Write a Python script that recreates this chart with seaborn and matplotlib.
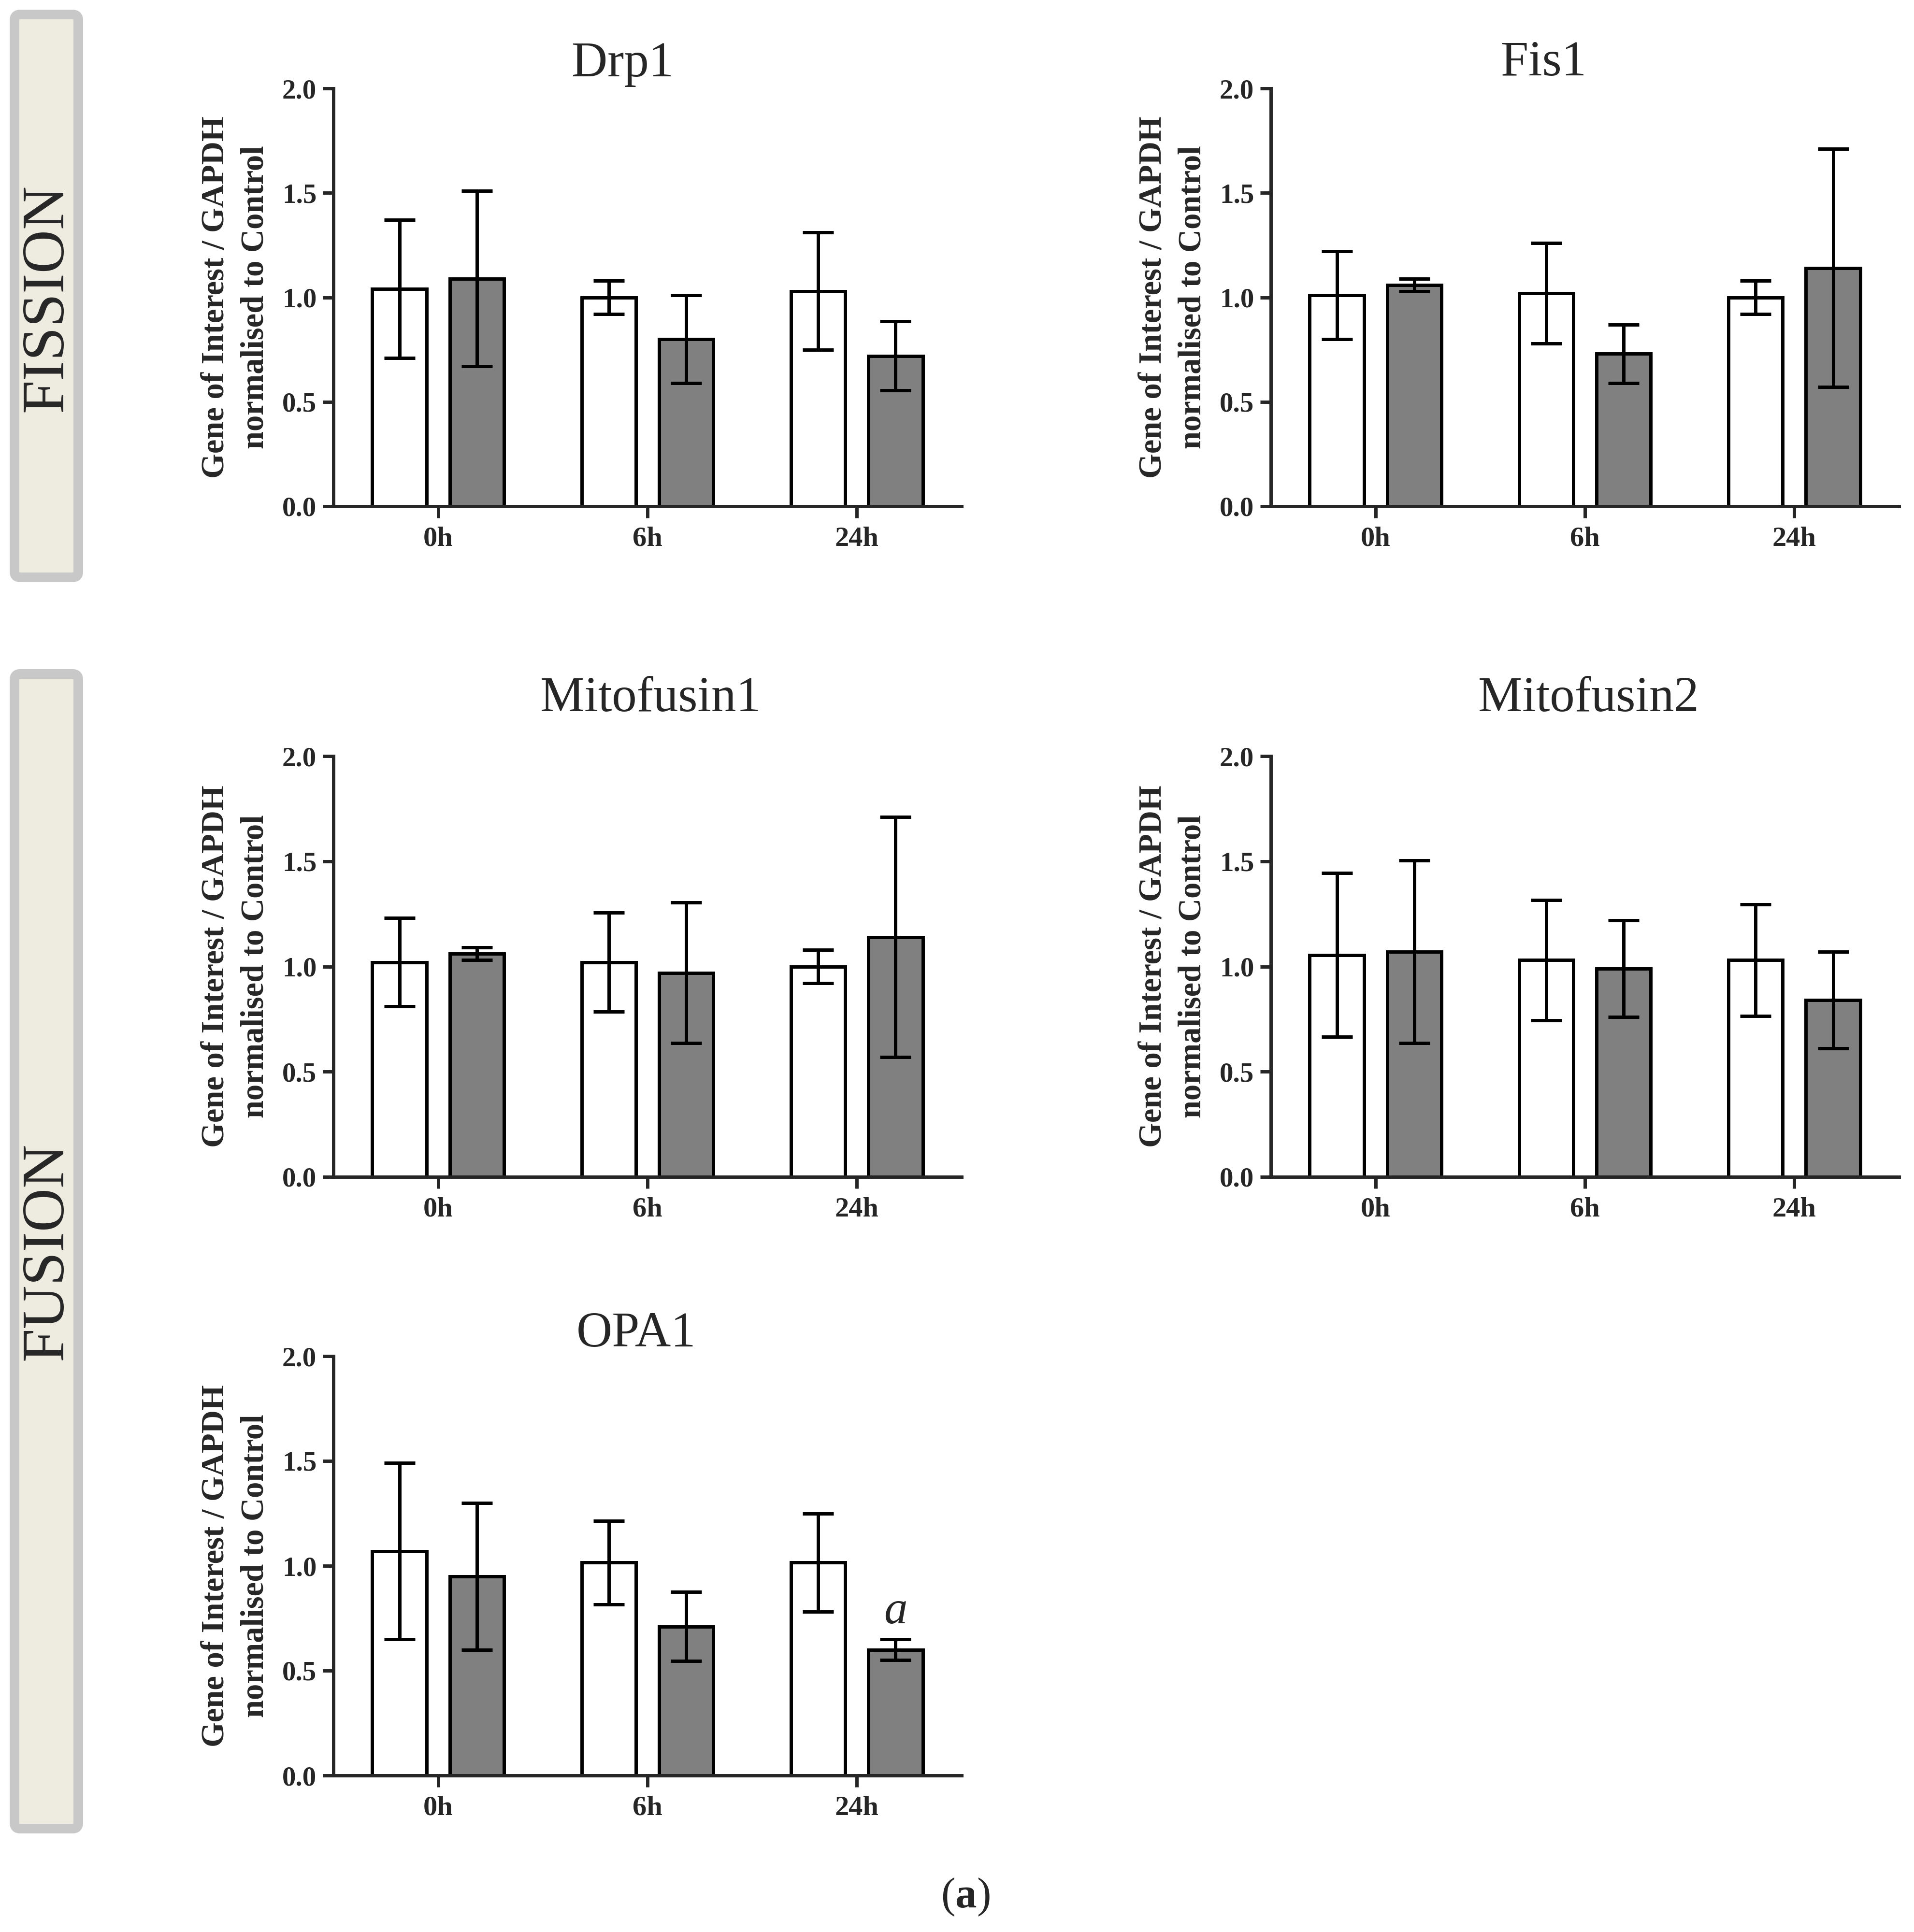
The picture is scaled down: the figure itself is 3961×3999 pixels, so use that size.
import numpy as np
import pandas as pd
import matplotlib
matplotlib.use("Agg")
import matplotlib.pyplot as plt
import seaborn as sns
from matplotlib.container import BarContainer
from matplotlib.patches import FancyBboxPatch
from matplotlib.ticker import FormatStrFormatter

# ---- data (mean, SD) ----
timepoints = ["0h", "6h", "24h"]
groups = ["Control", "Treated"]

drp1_ctrl_mean = [1.04, 1.00, 1.03]
drp1_ctrl_sd = [0.33, 0.08, 0.28]
drp1_trt_mean = [1.09, 0.80, 0.72]
drp1_trt_sd = [0.42, 0.21, 0.165]

fis1_ctrl_mean = [1.01, 1.02, 1.00]
fis1_ctrl_sd = [0.21, 0.24, 0.08]
fis1_trt_mean = [1.06, 0.73, 1.14]
fis1_trt_sd = [0.03, 0.14, 0.57]

mfn1_ctrl_mean = [1.02, 1.02, 1.00]
mfn1_ctrl_sd = [0.21, 0.235, 0.08]
mfn1_trt_mean = [1.06, 0.97, 1.14]
mfn1_trt_sd = [0.03, 0.335, 0.57]

mfn2_ctrl_mean = [1.055, 1.03, 1.03]
mfn2_ctrl_sd = [0.39, 0.285, 0.265]
mfn2_trt_mean = [1.07, 0.99, 0.84]
mfn2_trt_sd = [0.435, 0.23, 0.23]

opa1_ctrl_mean = [1.07, 1.015, 1.015]
opa1_ctrl_sd = [0.42, 0.20, 0.235]
opa1_trt_mean = [0.95, 0.71, 0.60]
opa1_trt_sd = [0.35, 0.165, 0.05]

genes = {
    "Drp1": (drp1_ctrl_mean, drp1_ctrl_sd, drp1_trt_mean, drp1_trt_sd),
    "Fis1": (fis1_ctrl_mean, fis1_ctrl_sd, fis1_trt_mean, fis1_trt_sd),
    "Mitofusin1": (mfn1_ctrl_mean, mfn1_ctrl_sd, mfn1_trt_mean, mfn1_trt_sd),
    "Mitofusin2": (mfn2_ctrl_mean, mfn2_ctrl_sd, mfn2_trt_mean, mfn2_trt_sd),
    "OPA1": (opa1_ctrl_mean, opa1_ctrl_sd, opa1_trt_mean, opa1_trt_sd),
}
# significance mark: (gene, timepoint, group, label)
sig_marks = [("OPA1", "24h", "Treated", "a")]

# ---- layout (figure fractions) ----
W, H = 3961, 3999
AX_W = 1300 / W
panels = {
    # left, bottom, height, title x (axes frac), title baseline (axes frac)
    "Drp1": (690 / W, 1 - 1048 / H, 865 / H, 0.46, 1.029),
    "Fis1": (2630 / W, 1 - 1048 / H, 865 / H, 0.434, 1.031),
    "Mitofusin1": (690 / W, 1 - 2436 / H, 871 / H, 0.505, 1.107),
    "Mitofusin2": (2630 / W, 1 - 2436 / H, 871 / H, 0.506, 1.107),
    "OPA1": (690 / W, 1 - 3675 / H, 868 / H, 0.482, 1.023),
}

sns.set_theme(style="ticks")
plt.rcParams["font.family"] = ["Liberation Serif", "DejaVu Serif"]
plt.rcParams["mathtext.fontset"] = "custom"
plt.rcParams["mathtext.rm"] = "Liberation Serif"
plt.rcParams["mathtext.bf"] = "Liberation Serif:bold"
plt.rcParams["mathtext.it"] = "Liberation Serif:italic"

LW = 5.0
fig = plt.figure(figsize=(W / 100, H / 100), dpi=100)

palette = {"Control": "white", "Treated": "#808080"}

for name, (left, bottom, height, tx, ty) in panels.items():
    c_mean, c_sd, t_mean, t_sd = genes[name]
    df = pd.DataFrame({
        "time": timepoints * 2,
        "group": [groups[0]] * 3 + [groups[1]] * 3,
        "value": c_mean + t_mean,
        "sd": c_sd + t_sd,
    })
    ax = fig.add_axes([left, bottom, AX_W, height])
    sns.barplot(data=df, x="time", y="value", hue="group", order=timepoints,
                hue_order=groups, palette=palette, edgecolor="black",
                linewidth=LW, width=0.74, gap=0.3, errorbar=None,
                legend=False, ax=ax)

    # error bars at the centres of the drawn bars
    bar_conts = [c for c in ax.containers if isinstance(c, BarContainer)]
    for gi, cont in enumerate(bar_conts):
        sub = df[df["group"] == groups[gi]].set_index("time")
        for bar in cont:
            xc = bar.get_x() + bar.get_width() / 2
            t = timepoints[int(round(xc))]
            ax.errorbar(xc, sub.loc[t, "value"], yerr=sub.loc[t, "sd"],
                        fmt="none", ecolor="black", elinewidth=LW,
                        capsize=23, capthick=LW, zorder=5)
            for g, tp, grp, lab in sig_marks:
                if g == name and tp == t and grp == groups[gi]:
                    ax.text(xc, sub.loc[t, "value"] + sub.loc[t, "sd"] + 0.075,
                            lab, ha="center", va="baseline", fontsize=70,
                            style="italic")

    ax.set_xlim(-0.5, 2.5)
    ax.set_ylim(0, 2.0)
    ax.set_yticks([0, 0.5, 1.0, 1.5, 2.0])
    ax.yaxis.set_major_formatter(FormatStrFormatter("%.1f"))
    sns.despine(ax=ax)
    ax.spines["left"].set_linewidth(LW)
    ax.spines["bottom"].set_linewidth(LW)
    ax.tick_params(axis="y", length=16, width=LW, pad=9, labelsize=41)
    ax.tick_params(axis="x", length=17, width=LW, pad=13, labelsize=42)
    for lab in ax.get_xticklabels() + ax.get_yticklabels():
        lab.set_fontweight("bold")
    ax.set_xlabel("")
    ax.set_ylabel("Gene of Interest / GAPDH\nnormalised to Control",
                  fontsize=48, fontweight="bold", labelpad=18, linespacing=1.45)
    ax.text(tx, ty, name, transform=ax.transAxes, ha="center",
            va="baseline", fontsize=74)

# side boxes
for y0, y1, label, yc in [(30, 1195, "FISSION", 617), (1395, 3785, "FUSION", 2590)]:
    box = FancyBboxPatch((30 / W, 1 - y1 / H), 132 / W, (y1 - y0) / H,
                         boxstyle="round,pad=0,rounding_size=0.003",
                         transform=fig.transFigure, facecolor="#EEECE1",
                         edgecolor="#C8C8C8", linewidth=14.4)
    fig.patches.append(box)
    fig.text(98 / W, 1 - yc / H, label, rotation=90, ha="center",
             va="center", fontsize=90)

fig.text(1998 / W, 1 - 3927 / H, r"($\mathbf{a}$)", ha="center",
         va="center", fontsize=64)

fig.savefig("out.png", dpi=100)
